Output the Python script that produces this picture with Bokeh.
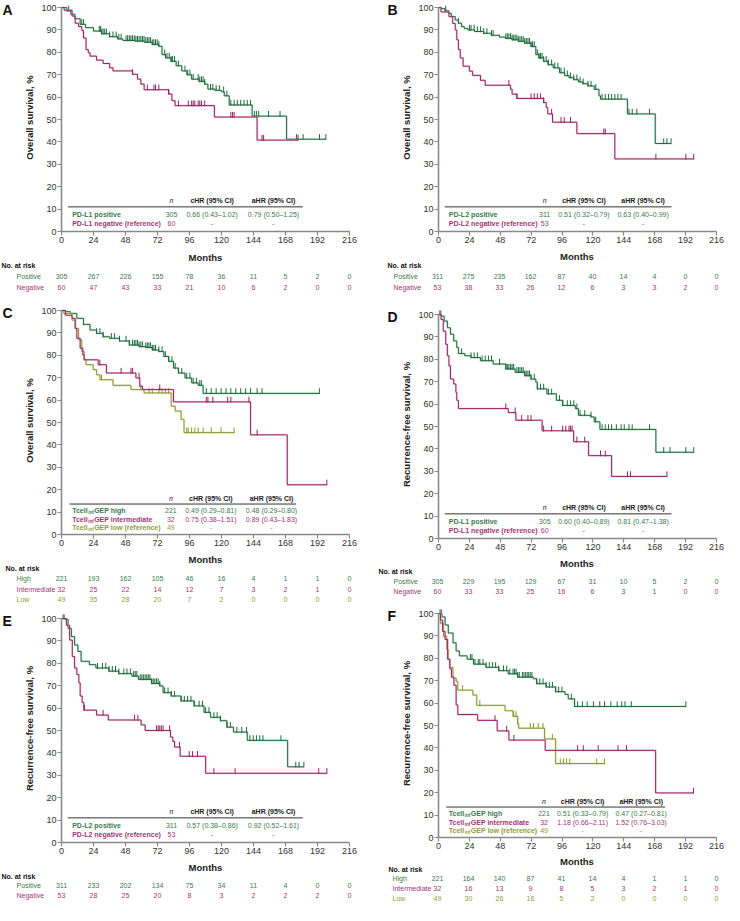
import numpy as np
from bokeh.plotting import figure
from bokeh.models import Range1d, FixedTicker
from bokeh.layouts import row, column
from bokeh.embed import file_html
from bokeh.resources import INLINE
from bokeh.core.properties import value

FONT = "Liberation Sans"

MONTH_TICKS = [0, 24, 48, 72, 96, 120, 144, 168, 192, 216]
SURV_TICKS = [0, 10, 20, 30, 40, 50, 60, 70, 80, 90, 100]

# ---------------- Panel A: OS by PD-L1 ----------------
A_POS_T = [0, 4, 7, 10, 14, 18, 24, 30, 36, 42, 46, 55, 62, 68, 73, 75.4, 78, 82, 86, 90.2, 94, 97.6, 103, 107.4, 109.8, 115, 120, 122.1, 125.8, 143, 168.8]
A_POS_S = [100, 98.5, 97, 95, 92.5, 91, 89.5, 88.3, 87, 86, 85.3, 85, 84.5, 83.5, 82.7, 79, 77.5, 76, 74, 71.7, 70, 68, 67, 65.8, 63.6, 63, 62.4, 60.6, 56.5, 51.5, 41.2]
A_POS_END = 198.3
A_POS_CENS = [5.4, 15.2, 16.5, 28.3, 29.3, 30.2, 31.2, 32.4, 33.7, 36.1, 38.6, 41, 43, 44.7, 48.4, 49.6, 50.9, 52.1, 53.3, 54.6, 55.8, 57, 58.2, 59.5, 60.7, 61.9, 63.2, 64.4, 65.6, 66.8, 68.1, 69.3, 70.5, 71.8, 73, 77.4, 79.1, 80.8, 82.3, 83.3, 84.8, 87.7, 92.6, 94.6, 96.3, 98.8, 102.5, 103.7, 105, 106.2, 107.4, 111.8, 113.5, 116, 118.4, 121.6, 124, 127, 129.5, 131.9, 134.4, 136.9, 139.3, 141.8, 144.7, 146.2, 147.9, 155.3, 163.9, 176.2, 181.2, 193.5, 198.3]
A_NEG_T = [0, 2, 7.9, 10.3, 12.8, 15.2, 16.5, 18.4, 20.1, 21.4, 26.3, 31.2, 36.1, 38.6, 53.3, 57, 59.5, 62, 80.4, 82.8, 85.2, 114.7, 146.7]
A_NEG_S = [100, 98.8, 96.2, 93, 91.5, 89.8, 86.4, 81.2, 79.8, 78.3, 76.5, 75, 73.1, 71.7, 70.2, 68, 65.8, 63.3, 61.4, 58.4, 56.2, 51.1, 40.8]
A_NEG_END = 177.4
A_NEG_CENS = [53.3, 64.4, 69.3, 70.5, 73, 80.4, 87.7, 95.1, 97.6, 98.8, 100, 102.5, 103.7, 105, 107.4, 127, 128.3, 129.5, 150.4, 151.6, 177.4]
A_RISK_POS = [305, 267, 226, 155, 78, 36, 11, 5, 2, 0]
A_RISK_NEG = [60, 47, 43, 33, 21, 10, 6, 2, 0, 0]

# ---------------- Panel B: OS by PD-L2 ----------------
B_POS_T = [0, 2, 5, 8.1, 10, 13, 15.5, 17.9, 20, 22.8, 28, 35.1, 41, 47.4, 52, 57.2, 62.1, 67, 71.9, 75.6, 78, 81.7, 85, 89.1, 94, 98, 101.4, 105, 108.7, 112, 116.1, 121, 124.7, 125.9, 146.8, 168.4]
B_POS_S = [100, 99.5, 98.5, 97.4, 96, 94.4, 93, 91.5, 90.6, 90, 89.3, 88.5, 87.6, 86.8, 86.2, 85.6, 84.9, 84.1, 82.6, 79, 77.5, 76, 74.5, 73.1, 70.9, 69.6, 68.7, 67.8, 66.8, 66, 65, 63.5, 60.6, 59.1, 52.5, 39.3]
B_POS_END = 180.7
B_POS_CENS = [5.6, 15.5, 24.1, 25.3, 27.7, 30.2, 32.6, 35.1, 37.6, 41.2, 42.5, 52.3, 53.5, 54.7, 56, 57.2, 58.4, 59.6, 60.9, 62.1, 63.3, 64.6, 65.8, 67, 68.2, 69.5, 70.7, 71.9, 73.1, 74.4, 76.8, 78.1, 79.3, 80.5, 81.7, 83.7, 85.4, 87.9, 90.3, 92.8, 95.2, 97.7, 100.1, 102.6, 105.1, 107.5, 110, 112.4, 116.1, 118.5, 122.2, 127.1, 129.6, 132.1, 134.5, 137, 139.4, 141.9, 148, 150.5, 154.1, 164, 175, 177.5, 180.7]
B_NEG_T = [0, 2, 8.1, 11, 13, 14.2, 15.5, 16.9, 19.1, 24, 26.5, 32.6, 36.3, 56, 57.2, 60.9, 81.7, 83.7, 84.9, 88.6, 107.5, 137]
B_NEG_S = [100, 98, 95.9, 92.9, 90, 85.6, 81.2, 77.5, 73.8, 71.6, 69.7, 67.5, 65.3, 63.5, 61.3, 59.4, 57.6, 55.4, 52.5, 48.8, 43.7, 32.4]
B_NEG_END = 198.3
B_NEG_CENS = [54.7, 60.9, 71.9, 74.4, 76.8, 79.3, 81.7, 87.9, 95.2, 97.7, 102.6, 128.4, 129.6, 168.9, 192.2, 198.3]
B_RISK_POS = [311, 275, 235, 162, 87, 40, 14, 4, 0, 0]
B_RISK_NEG = [53, 38, 33, 26, 12, 6, 3, 3, 2, 0]

# ---------------- Panel C: OS by Tcell-inf GEP ----------------
C_HIGH_T = [0, 2.9, 6.6, 11.5, 16.5, 21.4, 26.3, 31.2, 36.1, 43.5, 50.9, 58.2, 63.2, 68.1, 73, 76.7, 80.4, 84, 87.7, 92.6, 97.6, 102.5, 106.2]
C_HIGH_S = [100, 99.5, 98.7, 96.5, 93.8, 91.3, 89.8, 88.3, 87.6, 86.4, 84.6, 83.9, 83.5, 82.4, 81.7, 79.5, 77.3, 74.3, 72.1, 69.9, 67.7, 66.6, 63]
C_HIGH_END = 193.4
C_HIGH_CENS = [16.5, 26.3, 28.8, 31.2, 37.4, 39.8, 43.5, 48.4, 50.9, 53.3, 54.6, 55.8, 57, 58.2, 59.5, 60.7, 63.2, 64.4, 65.6, 66.8, 68.1, 69.3, 70.5, 73, 75.4, 77.9, 80.4, 82.8, 85.3, 87.7, 90.2, 93.9, 96.3, 98.8, 101.2, 103.7, 104.9, 108.6, 112.3, 116, 119.7, 123.4, 127, 130.7, 134.4, 138.1, 141.8, 146.7, 150.4, 193.4]
C_INT_T = [0, 2.9, 7.9, 10.3, 11.5, 14, 16, 17, 27.5, 33.7, 55.8, 58.7, 60.7, 84, 141.8, 169.3]
C_INT_S = [100, 97.9, 96.5, 92, 87.6, 83.2, 80.2, 78, 75.8, 72.1, 69.9, 66.2, 64.7, 59.2, 44.5, 22.2]
C_INT_END = 199
C_INT_CENS = [28.8, 44.7, 52.1, 53.3, 58.2, 73.7, 108.6, 109.8, 113.5, 124.6, 127, 140.6, 146.7, 199]
C_LOW_T = [0, 1.7, 7.9, 10.3, 12.8, 15.2, 17, 18.4, 23.8, 26.3, 28.8, 38.6, 52.1, 61.9, 82.3, 85.3, 89.7, 91.9]
C_LOW_S = [100, 98.7, 95.7, 92, 86.9, 81.7, 78, 75.8, 73.6, 71.3, 69.1, 66.6, 64.7, 63.2, 57.3, 55.1, 51.4, 45.5]
C_LOW_END = 129.5
C_LOW_CENS = [30, 59.5, 65.6, 68.1, 73, 75.4, 77.9, 80.4, 93.9, 95.1, 97.6, 100, 102.5, 106.2, 112.3, 119.7, 129.5]
C_RISK_HIGH = [221, 193, 162, 105, 46, 16, 4, 1, 1, 0]
C_RISK_INT = [32, 25, 22, 14, 12, 7, 3, 2, 1, 0]
C_RISK_LOW = [49, 35, 28, 20, 7, 2, 0, 0, 0, 0]

# ---------------- Panel D: RFS by PD-L1 ----------------
D_POS_T = [0, 2, 4.4, 6.9, 9.3, 11.8, 14.2, 15.5, 20.4, 25.3, 32.6, 42.5, 52.3, 59.6, 67, 71.9, 75.6, 76.8, 84.2, 91.6, 96.5, 106.3, 108.7, 118.5, 121, 125.4, 168.9]
D_POS_S = [100, 99.3, 97.1, 94.1, 91.2, 88.2, 85.3, 82.6, 81.6, 80.8, 79.4, 77.9, 75.7, 74.2, 72.7, 71.2, 69.8, 66.8, 64.6, 61.7, 59.4, 58, 55, 54.3, 52.1, 48.7, 38.5]
D_POS_END = 198.3
D_POS_CENS = [1.0, 1.8, 17.9, 25.3, 27.7, 30.2, 33.9, 36.3, 38.8, 41.2, 47.4, 52.3, 53.5, 54.7, 56, 57.2, 58.4, 60.9, 62.1, 63.3, 64.6, 65.8, 67, 68.2, 69.5, 70.7, 71.9, 74.4, 76.8, 79.3, 81.7, 85.4, 87.9, 94, 96.5, 100.1, 102.6, 105.1, 107.5, 110, 113.6, 118.5, 122.2, 127.1, 129.6, 132.1, 134.5, 138.2, 141.9, 144.3, 148, 150.5, 164, 175, 179.9, 192.2, 198.3]
D_NEG_T = [0, 2, 3.7, 5.6, 6.9, 8.1, 9.3, 11.8, 13.5, 14.2, 15.5, 54.2, 60.1, 80.5, 105, 116.6, 134.5]
D_NEG_S = [100, 97.8, 92.6, 86.7, 81.6, 77.1, 71.2, 69, 65.3, 61.7, 58, 56.2, 52.8, 48.1, 43.2, 37, 27.7]
D_NEG_END = 177.5
D_NEG_CENS = [52.3, 59.6, 64.6, 69.5, 71.9, 81.7, 87.9, 96.5, 98.9, 101.4, 102.6, 103.8, 107.5, 113.6, 125.9, 129.6, 146.8, 149.2, 177.5]
D_RISK_POS = [305, 229, 195, 129, 67, 31, 10, 5, 2, 0]
D_RISK_NEG = [60, 33, 33, 25, 16, 6, 3, 1, 0, 0]

# ---------------- Panel E: RFS by PD-L2 ----------------
E_POS_T = [0, 2.5, 4.9, 7.4, 9.8, 12.3, 14.7, 20.9, 25.8, 35.6, 43, 52.8, 57.7, 67.6, 73.7, 76.2, 82.3, 89.7, 99.5, 106.9, 111.8, 119.2, 124.1, 129, 139.3, 169.6]
E_POS_S = [100, 99.6, 95.6, 91.9, 88.2, 85.3, 80.9, 79.4, 77.9, 76.5, 75.4, 74.3, 72.8, 71, 69.9, 66.9, 65.4, 63.2, 61, 58.1, 55.9, 54.4, 51.5, 49.3, 45.6, 33.8]
E_POS_END = 181.8
E_POS_CENS = [1.2, 2.0, 27, 30.7, 33.2, 35.6, 38.1, 40.5, 43, 46.7, 49.1, 51.6, 54.1, 55.3, 56.5, 59, 60.2, 61.4, 62.7, 63.9, 65.1, 66.3, 67.6, 68.8, 70, 71.3, 72.5, 73.7, 77.4, 79.9, 82.3, 84.8, 89.7, 92.1, 94.6, 97.1, 99.5, 103.2, 105.7, 108.1, 110.6, 114.3, 116.7, 119.2, 124.1, 126.6, 131.5, 135.2, 138.8, 141.3, 143.8, 146.2, 148.7, 151.1, 164.6, 175.7, 178.2, 181.8]
E_NEG_T = [0, 3.7, 6.1, 8.1, 9.8, 11.5, 13, 14, 15.5, 16.7, 26.3, 35.1, 59.7, 62.7, 81.8, 83.5, 84.8, 89, 108.1]
E_NEG_S = [100, 97, 90.4, 83, 77.9, 75, 71.3, 65.4, 62.5, 59.1, 56.9, 54.7, 52.5, 50, 47.1, 45.1, 42.6, 38.5, 30.9]
E_NEG_END = 199
E_NEG_CENS = [17.2, 31.2, 54.8, 57.3, 71.3, 72.5, 73.7, 74.9, 76.2, 81.1, 88.5, 95.8, 98.3, 102, 114.3, 130.2, 192.9, 199]
E_RISK_POS = [311, 233, 202, 134, 75, 34, 11, 4, 0, 0]
E_RISK_NEG = [53, 28, 25, 20, 8, 3, 2, 2, 2, 0]

# ---------------- Panel F: RFS by Tcell-inf GEP ----------------
F_HIGH_T = [0, 2.7, 5.1, 7.6, 11.3, 13.7, 16.2, 22.3, 27.2, 37, 46.8, 54.2, 61.5, 73.8, 76.3, 83.6, 91, 98.3, 100.8, 105.7]
F_HIGH_S = [100, 98.5, 94.9, 91.3, 86.9, 83.3, 81.1, 79.6, 77.4, 76, 74.5, 73.1, 71.6, 70.9, 68.7, 67.2, 65.1, 63.9, 61.9, 58.5]
F_HIGH_END = 192.2
F_HIGH_CENS = [1.2, 2.2, 24.8, 26, 28.4, 30.9, 32.1, 34.6, 37, 39.5, 41.9, 44.4, 46.8, 50.5, 53, 55.4, 57.9, 59.1, 60.3, 61.5, 62.8, 65.2, 66.4, 67.7, 68.9, 70.1, 71.3, 72.6, 76.3, 78.7, 81.2, 83.6, 86.1, 88.5, 91, 93.4, 95.9, 103.2, 105.7, 108.1, 111.8, 115.5, 120.4, 125.3, 129, 133.9, 138.8, 142.4, 144.9, 149.8, 192.2]
F_INT_T = [0, 1.5, 3.2, 5.1, 7.1, 8.8, 10.1, 12, 13.7, 15, 30.4, 45.6, 54.7, 82.9, 168.7]
F_INT_S = [100, 97.1, 92, 88.4, 79.6, 75.3, 71.6, 68, 59.2, 54.9, 52.3, 47.6, 43.5, 38.9, 19.9]
F_INT_END = 198.1
F_INT_CENS = [43.9, 53, 58.6, 108.1, 112.5, 124.1, 139.5, 146.1, 198.1]
F_LOW_T = [0, 1.5, 3.9, 6.4, 7.6, 8.8, 11.3, 13.7, 15, 26.7, 29.7, 51.7, 57.9, 61.5, 62.3, 82.4, 91]
F_LOW_S = [100, 95.6, 89.8, 84, 79.6, 76, 71.2, 69.7, 65.8, 63.6, 59, 56.6, 54.1, 50.8, 48.8, 44, 33]
F_LOW_END = 129
F_LOW_CENS = [18.6, 32.1, 58.4, 60.3, 61.5, 71.3, 73.8, 77.5, 81.2, 88.5, 94.6, 97.1, 99.5, 102, 122.9, 129]
F_RISK_HIGH = [221, 164, 140, 87, 41, 14, 4, 1, 1, 0]
F_RISK_INT = [32, 16, 13, 9, 8, 5, 3, 2, 1, 0]
F_RISK_LOW = [49, 30, 26, 16, 5, 2, 0, 0, 0, 0]

# ---------------- Hazard-ratio tables ----------------
PDL1_LABELS = ["PD-L1 positive", "PD-L1 negative (reference)"]
PDL2_LABELS = ["PD-L2 positive", "PD-L2 negative (reference)"]
GEP_LABELS = ["GEP high", "GEP intermediate", "GEP low (reference)"]
A_N = [305, 60]; A_CHR = ["0.66 (0.43\u20131.02)", "-"]; A_AHR = ["0.79 (0.50\u20131.25)", "-"]
B_N = [311, 53]; B_CHR = ["0.51 (0.32\u20130.79)", "-"]; B_AHR = ["0.63 (0.40\u20130.99)", "-"]
C_N = [221, 32, 49]; C_CHR = ["0.49 (0.29\u20130.81)", "0.75 (0.38\u20131.51)", "-"]; C_AHR = ["0.48 (0.29\u20130.80)", "0.89 (0.43\u20131.83)", "-"]
D_N = [305, 60]; D_CHR = ["0.60 (0.40\u20130.89)", "-"]; D_AHR = ["0.81 (0.47\u20131.38)", "-"]
E_N = [311, 53]; E_CHR = ["0.57 (0.38\u20130.86)", "-"]; E_AHR = ["0.92 (0.52\u20131.61)", "-"]
F_N = [221, 32, 49]; F_CHR = ["0.51 (0.33\u20130.79)", "1.18 (0.66\u20132.11)", "-"]; F_AHR = ["0.47 (0.27\u20130.81)", "1.52 (0.76\u20133.03)", "-"]

OS_LABEL = "Overall survival, %"
RFS_LABEL = "Recurrence-free survival, %"

# ---------------- styles ----------------
GREEN, GREEN_L, GREEN_T = "#1f6a3d", "#9cc7a8", "#3a7a4c"
MAG, MAG_L, MAG_T = "#98215f", "#d9a3c6", "#a23677"
OLIVE, OLIVE_L, OLIVE_T = "#879a2c", "#cbd49c", "#8f9e3a"
AXIS_C = "#8a8a8a"

KM_T, KM_B, FRAME_H = 3, 20, 228
KM_H = KM_T + FRAME_H + KM_B
Y_TOP = 101.8

# column geometry (pixels)
L_COL, L_LET, L_BL, L_FW = 360, 14, 47, 288
R_COL, R_LET, R_BL, R_FW = 364, 38, 39, 279


def base_fig(width, height, **kw):
    f = figure(width=width, height=height, output_backend="svg", toolbar_location=None,
               frame_align=False, **kw)
    f.grid.visible = False
    f.outline_line_color = None
    return f


def txt(p, x, y, t, color="#222222", size="7px", style="normal", align="left",
        x_off=0, y_off=0, baseline="middle"):
    p.text(x=x, y=y, text=t, text_font=value(FONT), text_font_size=size, text_font_style=style,
           text_color=color, text_align=align, text_baseline=baseline, x_offset=x_off, y_offset=y_off)


def letter_fig(width, letter, lx):
    f = base_fig(width, KM_H, x_range=Range1d(0, width), y_range=Range1d(KM_H, 0),
                 min_border=0, x_axis_location=None, y_axis_location=None)
    txt(f, [lx], [1.5], [letter], color="#111111", size="14px", style="bold", baseline="top")
    return f


def km_figure(col_w, let_w, bl, fw, ylabel):
    width = col_w - let_w
    p = base_fig(width, KM_H, x_range=Range1d(0, 216), y_range=Range1d(0, Y_TOP),
                 min_border_left=bl, min_border_right=width - bl - fw,
                 min_border_top=KM_T, min_border_bottom=KM_B)
    p.xaxis.ticker = FixedTicker(ticks=MONTH_TICKS)
    p.yaxis.ticker = FixedTicker(ticks=SURV_TICKS)
    p.yaxis.bounds = (0, 100)
    p.axis.axis_line_color = AXIS_C
    p.axis.axis_line_width = 1.6
    p.axis.major_tick_line_color = AXIS_C
    p.axis.major_tick_line_width = 1.2
    p.axis.major_tick_in = 0
    p.axis.major_tick_out = 4
    p.axis.minor_tick_line_color = None
    p.axis.major_label_text_font = FONT
    p.axis.major_label_text_font_size = "9px"
    p.axis.major_label_text_color = "#333333"
    p.axis.major_label_standoff = 1
    p.yaxis.axis_label = ylabel
    p.yaxis.axis_label_text_font = FONT
    p.yaxis.axis_label_text_font_size = "9.5px"
    p.yaxis.axis_label_text_font_style = "bold"
    p.yaxis.axis_label_text_color = "#222222"
    p.yaxis.axis_label_standoff = 3
    return p


def draw_curve(p, t, s, end, cens, color, light):
    xs = list(t) + [end]
    ys = list(s) + [s[-1]]
    p.step(xs, ys, mode="after", line_color=light, line_width=2.2, line_alpha=0.45)
    p.step(xs, ys, mode="after", line_color=color, line_width=1.0)
    idx = np.searchsorted(np.array(t), np.array(cens), side="right") - 1
    cy = np.array(s, dtype=float)[idx]
    p.segment(x0=cens, y0=cy - 0.3, x1=cens, y1=cy + 2.3, line_color=color, line_width=1)


def hr_table(p, labels, ns, chrs, ahrs, colors, gep):
    if gep:
        hy, ly, rys = 16.2, 13.6, [10.5, 6.9, 3.3]
        lx0, lx1, cn, cc, ca = 6, 176, 82, 112, 157.5
    else:
        hy, ly, rys = 14, 11, [7.5, 3.7]
        lx0, lx1, cn, cc, ca = 4.8, 181, 82.5, 113, 159
    p.segment(x0=[lx0], y0=[ly], x1=[lx1], y1=[ly], line_color="#333333", line_width=1)
    txt(p, [cn], [hy], ["n"], style="italic", align="center")
    txt(p, [cc, ca], [hy, hy], ["cHR (95% CI)", "aHR (95% CI)"], style="bold", align="center")
    for lab, n, c, a, col, yy in zip(labels, ns, chrs, ahrs, colors, rys):
        if gep:
            txt(p, [8], [yy], ["Tcell"], color=col, style="bold")
            txt(p, [8], [yy], ["inf"], color=col, style="bold", size="4.5px", x_off=16, y_off=2)
            txt(p, [8], [yy], [lab], color=col, style="bold", x_off=22)
        else:
            txt(p, [8], [yy], [lab], color=col, style="bold")
        txt(p, [cn, cc, ca], [yy] * 3, [str(n), c, a], color=col, align="center")


def risk_figure(col_w, frame_left, fw, height, months_y, no_y, row_ys, names, counts, colors,
                no_px, name_px):
    scale = fw / 216
    x0 = -frame_left / scale
    x1 = (col_w - frame_left) / scale
    r = base_fig(col_w, height, x_range=Range1d(x0, x1), y_range=Range1d(height, 0),
                 min_border=0, x_axis_location=None, y_axis_location=None)
    txt(r, [108], [months_y], ["Months"], size="9.5px", style="bold", align="center")
    txt(r, [x0 + no_px / scale], [no_y], ["No. at risk"], color="#111111", style="bold")
    for nm, cnt, col, yy in zip(names, counts, colors, row_ys):
        txt(r, [x0 + name_px / scale], [yy], [nm], color=col)
        txt(r, MONTH_TICKS, [yy] * len(MONTH_TICKS), [str(c) for c in cnt], color=col, align="center")
    return r


def left_panel(letter, ylabel):
    return letter_fig(L_LET, letter, 2), km_figure(L_COL, L_LET, L_BL, L_FW, ylabel)


def right_panel(letter, ylabel):
    return letter_fig(R_LET, letter, 27), km_figure(R_COL, R_LET, R_BL, R_FW, ylabel)


LFL = L_LET + L_BL
RFL = R_LET + R_BL
PAIR = ["Positive", "Negative"]
TRIO = ["High", "Intermediate", "Low"]

# Panel A
lA, pA = left_panel("A", OS_LABEL)
draw_curve(pA, A_POS_T, A_POS_S, A_POS_END, A_POS_CENS, GREEN, GREEN_L)
draw_curve(pA, A_NEG_T, A_NEG_S, A_NEG_END, A_NEG_CENS, MAG, MAG_L)
hr_table(pA, PDL1_LABELS, A_N, A_CHR, A_AHR, [GREEN_T, MAG_T], False)
rA = risk_figure(L_COL, LFL, L_FW, 52, 6, 14, [25, 36], PAIR,
                 [A_RISK_POS, A_RISK_NEG], [GREEN_T, MAG_T], 1, 16)

# Panel C
lC, pC = left_panel("C", OS_LABEL)
draw_curve(pC, C_HIGH_T, C_HIGH_S, C_HIGH_END, C_HIGH_CENS, GREEN, GREEN_L)
draw_curve(pC, C_LOW_T, C_LOW_S, C_LOW_END, C_LOW_CENS, OLIVE, OLIVE_L)
draw_curve(pC, C_INT_T, C_INT_S, C_INT_END, C_INT_CENS, MAG, MAG_L)
hr_table(pC, GEP_LABELS, C_N, C_CHR, C_AHR, [GREEN_T, MAG_T, OLIVE_T], True)
rC = risk_figure(L_COL, LFL, L_FW, 57, 5, 14, [24, 35, 45], TRIO,
                 [C_RISK_HIGH, C_RISK_INT, C_RISK_LOW], [GREEN_T, MAG_T, OLIVE_T], 5, 16)

# Panel E
lE, pE = left_panel("E", RFS_LABEL)
draw_curve(pE, E_POS_T, E_POS_S, E_POS_END, E_POS_CENS, GREEN, GREEN_L)
draw_curve(pE, E_NEG_T, E_NEG_S, E_NEG_END, E_NEG_CENS, MAG, MAG_L)
hr_table(pE, PDL2_LABELS, E_N, E_CHR, E_AHR, [GREEN_T, MAG_T], False)
rE = risk_figure(L_COL, LFL, L_FW, 40, 5, 14, [23, 33], PAIR,
                 [E_RISK_POS, E_RISK_NEG], [GREEN_T, MAG_T], 1, 16)

# Panel B
lB, pB = right_panel("B", OS_LABEL)
draw_curve(pB, B_POS_T, B_POS_S, B_POS_END, B_POS_CENS, GREEN, GREEN_L)
draw_curve(pB, B_NEG_T, B_NEG_S, B_NEG_END, B_NEG_CENS, MAG, MAG_L)
hr_table(pB, PDL2_LABELS, B_N, B_CHR, B_AHR, [GREEN_T, MAG_T], False)
rB = risk_figure(R_COL, RFL, R_FW, 56, 5, 14, [25, 36], PAIR,
                 [B_RISK_POS, B_RISK_NEG], [GREEN_T, MAG_T], 27, 33)

# Panel D
lD, pD = right_panel("D", RFS_LABEL)
draw_curve(pD, D_POS_T, D_POS_S, D_POS_END, D_POS_CENS, GREEN, GREEN_L)
draw_curve(pD, D_NEG_T, D_NEG_S, D_NEG_END, D_NEG_CENS, MAG, MAG_L)
hr_table(pD, PDL1_LABELS, D_N, D_CHR, D_AHR, [GREEN_T, MAG_T], False)
rD = risk_figure(R_COL, RFL, R_FW, 48, 5, 13, [23, 33], PAIR,
                 [D_RISK_POS, D_RISK_NEG], [GREEN_T, MAG_T], 18, 33)

# Panel F
lF, pF = right_panel("F", RFS_LABEL)
draw_curve(pF, F_HIGH_T, F_HIGH_S, F_HIGH_END, F_HIGH_CENS, GREEN, GREEN_L)
draw_curve(pF, F_LOW_T, F_LOW_S, F_LOW_END, F_LOW_CENS, OLIVE, OLIVE_L)
draw_curve(pF, F_INT_T, F_INT_S, F_INT_END, F_INT_CENS, MAG, MAG_L)
hr_table(pF, GEP_LABELS, F_N, F_CHR, F_AHR, [GREEN_T, MAG_T, OLIVE_T], True)
rF = risk_figure(R_COL, RFL, R_FW, 45, 4, 12, [21, 31, 41], TRIO,
                 [F_RISK_HIGH, F_RISK_INT, F_RISK_LOW], [GREEN_T, MAG_T, OLIVE_T], 28, 32)

left = column(row(lA, pA), rA, row(lC, pC), rC, row(lE, pE), rE)
right = column(row(lB, pB), rB, row(lD, pD), rD, row(lF, pF), rF)
layout = row(left, right)

open("out.html", "w").write(file_html(layout, INLINE))
